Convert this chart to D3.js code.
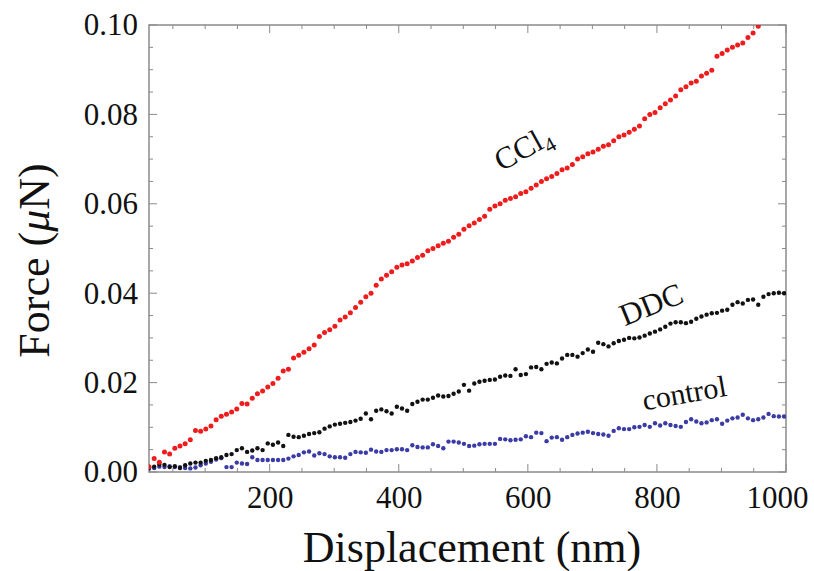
<!DOCTYPE html>
<html><head><meta charset="utf-8">
<script src="https://cdn.jsdelivr.net/npm/d3@7"></script>
<style>body{margin:0;background:#fff}svg{display:block}</style>
</head><body><svg id="c" width="814" height="571"></svg>
<script>
const displacement = [13,21,29,37,45,53,61,69,77,85,93,101,109,117,125,133,141,149,157,165,173,181,189,197,205,213,221,229,237,245,253,261,269,277,285,293,301,309,317,325,333,341,349,357,365,373,381,389,397,405,413,421,429,437,445,453,461,469,477,485,493,501,509,517,525,533,541,549,557,565,573,581,589,597,605,613,621,629,637,645,653,661,669,677,685,693,701,709,717,725,733,741,749,757,765,773,781,789,797,805,813,821,829,837,845,853,861,869,877,885,893,901,909,917,925,933,941,949,957,965,973,981,989,997];
const ccl4 = [.0012,.0030,.0022,.0045,.0040,.0053,.0058,.0063,.0072,.0093,.0091,.0096,.0103,.0117,.0125,.0129,.0134,.0141,.0153,.0152,.0165,.0175,.0181,.0190,.0198,.0210,.0226,.0230,.0255,.0261,.0268,.0276,.0284,.0303,.0312,.0318,.0326,.0340,.0347,.0356,.0368,.0380,.0392,.0400,.0418,.0432,.0440,.0448,.0458,.0463,.0466,.0472,.0480,.0485,.0495,.0500,.0506,.0512,.0516,.0525,.0532,.0543,.0551,.0557,.0565,.0572,.0588,.0595,.0600,.0608,.0612,.0616,.0623,.0627,.0635,.0642,.0650,.0656,.0661,.0668,.0676,.0680,.0688,.0700,.0705,.0712,.0716,.0722,.0729,.0732,.0741,.0750,.0754,.0760,.0767,.0774,.0790,.0800,.0804,.0815,.0824,.0832,.0841,.0855,.0862,.0870,.0874,.0886,.0892,.0899,.0930,.0936,.0944,.0950,.0955,.0960,.0972,.0982,.0997];
const ddc = [.0010,.0012,.0017,.0016,.0011,.0013,.0009,.0015,.0019,.0021,.0021,.0025,.0027,.0031,.0033,.0038,.0040,.0049,.0053,.0045,.0048,.0053,.0049,.0064,.0061,.0066,.0058,.0083,.0079,.0078,.0081,.0085,.0087,.0089,.0097,.0102,.0106,.0108,.0110,.0112,.0115,.0119,.0131,.0118,.0137,.0140,.0136,.0131,.0146,.0142,.0137,.0152,.0157,.0162,.0162,.0166,.0171,.0169,.0170,.0175,.0180,.0195,.0182,.0198,.0202,.0204,.0206,.0207,.0213,.0216,.0215,.0230,.0217,.0219,.0234,.0235,.0230,.0242,.0245,.0243,.0254,.0262,.0262,.0258,.0266,.0274,.0269,.0289,.0286,.0281,.0288,.0293,.0296,.0300,.0299,.0301,.0305,.0310,.0314,.0319,.0325,.0332,.0335,.0335,.0333,.0336,.0343,.0348,.0352,.0355,.0356,.0361,.0363,.0374,.0380,.0377,.0385,.0386,.0374,.0392,.0398,.0400,.0401,.0400];
const control = [.0007,.0009,.0012,.0011,.0013,.0011,.0011,.0009,.0008,.0010,.0015,.0019,.0023,.0028,.0031,.0011,.0011,.0021,.0019,.0018,.0033,.0027,.0027,.0027,.0027,.0027,.0027,.0030,.0035,.0038,.0044,.0046,.0037,.0042,.0040,.0035,.0033,.0033,.0032,.0040,.0045,.0044,.0043,.0050,.0046,.0045,.0049,.0049,.0051,.0051,.0049,.0060,.0056,.0055,.0055,.0062,.0058,.0053,.0068,.0068,.0066,.0063,.0058,.0059,.0062,.0063,.0063,.0063,.0074,.0073,.0071,.0072,.0073,.0080,.0078,.0088,.0087,.0069,.0077,.0078,.0072,.0078,.0083,.0086,.0088,.0090,.0087,.0085,.0084,.0081,.0092,.0098,.0096,.0096,.0100,.0101,.0105,.0101,.0109,.0104,.0109,.0105,.0103,.0101,.0112,.0118,.0113,.0109,.0111,.0116,.0118,.0108,.0115,.0120,.0122,.0128,.0120,.0116,.0118,.0122,.0130,.0125,.0124,.0124];
const xTicks = [200,400,600,800,1000];
const yTicks = [0,0.02,0.04,0.06,0.08,0.10];
const xMinor = [50,100,150,200,250,300,350,400,450,500,550,600,650,700,750,800,850,900,950,1000];
const yMinor = [0,0.005,0.01,0.015,0.02,0.025,0.03,0.035,0.04,0.045,0.05,0.055,0.06,0.065,0.07,0.075,0.08,0.085,0.09,0.095,0.1];
const xTitle = "Displacement (nm)";
const labels = ["CCl", "DDC", "control"];

const svg = d3.select("#c");
const L=149,R=786,T=25,B=472;
const x = d3.scaleLinear().domain([13,1000]).range([L,R]);
const y = d3.scaleLinear().domain([0,0.1]).range([B,T]);
const font = "'Liberation Serif','Times New Roman',serif";
const frameColor = "#8a8a8a";

svg.append("defs").append("clipPath").attr("id","clip")
  .append("rect").attr("x",L).attr("y",T).attr("width",R-L).attr("height",B-T);

function styleAxis(g){
  g.select(".domain").remove();
  g.selectAll(".tick line").remove();
  g.selectAll("text").attr("font-family",font).attr("font-size",31).attr("fill","#111");
}
const tickG = svg.append("g").attr("stroke",frameColor).attr("stroke-width",1);
xMinor.forEach(v=>{
  const len = (v%200===0)?8:4;
  tickG.append("line").attr("x1",x(v)).attr("x2",x(v)).attr("y1",B).attr("y2",B-len);
  tickG.append("line").attr("x1",x(v)).attr("x2",x(v)).attr("y1",T).attr("y2",T+len);
});
yMinor.forEach(v=>{
  const major = Math.round(v*1000)%20===0;
  const len = major?8:4;
  tickG.append("line").attr("y1",y(v)).attr("y2",y(v)).attr("x1",L).attr("x2",L+len);
  tickG.append("line").attr("y1",y(v)).attr("y2",y(v)).attr("x1",R).attr("x2",R-len);
});

const gx = svg.append("g").attr("transform",`translate(0,${B})`)
  .call(d3.axisBottom(x).tickValues(xTicks).tickSize(0).tickPadding(14).tickFormat(d3.format("d")));
styleAxis(gx);
gx.selectAll(".tick text").filter(d=>d===1000).attr("dx",-9);
const gy = svg.append("g").attr("transform",`translate(${L},0)`)
  .call(d3.axisLeft(y).tickValues(yTicks).tickSize(0).tickPadding(11).tickFormat(d3.format(".2f")));
styleAxis(gy);

svg.append("rect").attr("x",L).attr("y",T).attr("width",R-L).attr("height",B-T)
  .attr("fill","none").attr("stroke",frameColor).attr("stroke-width",1.5);

const plot = svg.append("g").attr("clip-path","url(#clip)");
function drawSeries(vals,color,r){
  plot.append("g").selectAll("circle").data(vals).join("circle")
    .attr("cx",(d,i)=>x(displacement[i])).attr("cy",d=>y(d)).attr("r",r).attr("fill",color);
}
drawSeries(control,"#3b3ba6",2.2);
drawSeries(ddc,"#111111",2.2);
drawSeries(ccl4,"#ee1c1c",2.5);

// axis titles
svg.append("text").attr("x",472).attr("y",562).attr("text-anchor","middle")
  .attr("font-family",font).attr("font-size",44).attr("fill","#111").text(xTitle);
const yt = svg.append("text").attr("transform",`translate(49,${(T+B)/2+12}) rotate(-90)`)
  .attr("text-anchor","middle").attr("font-family",font).attr("font-size",44).attr("fill","#111");
yt.append("tspan").text("Force (");
yt.append("tspan").attr("font-style","italic").text("μ");
yt.append("tspan").text("N)");

// series labels
const c1 = svg.append("text").attr("transform","translate(528,157) rotate(-29)")
  .attr("text-anchor","middle").attr("font-family",font).attr("font-size",31).attr("fill","#111");
c1.append("tspan").text(labels[0]);
c1.append("tspan").attr("font-size",21).attr("dy",7).text("4");
svg.append("text").attr("transform","translate(655,314) rotate(-22)")
  .attr("text-anchor","middle").attr("font-family",font).attr("font-size",31).attr("fill","#111").text(labels[1]);
svg.append("text").attr("transform","translate(686,403) rotate(-10)")
  .attr("text-anchor","middle").attr("font-family",font).attr("font-size",30).attr("fill","#111").text(labels[2]);
</script></body></html>
